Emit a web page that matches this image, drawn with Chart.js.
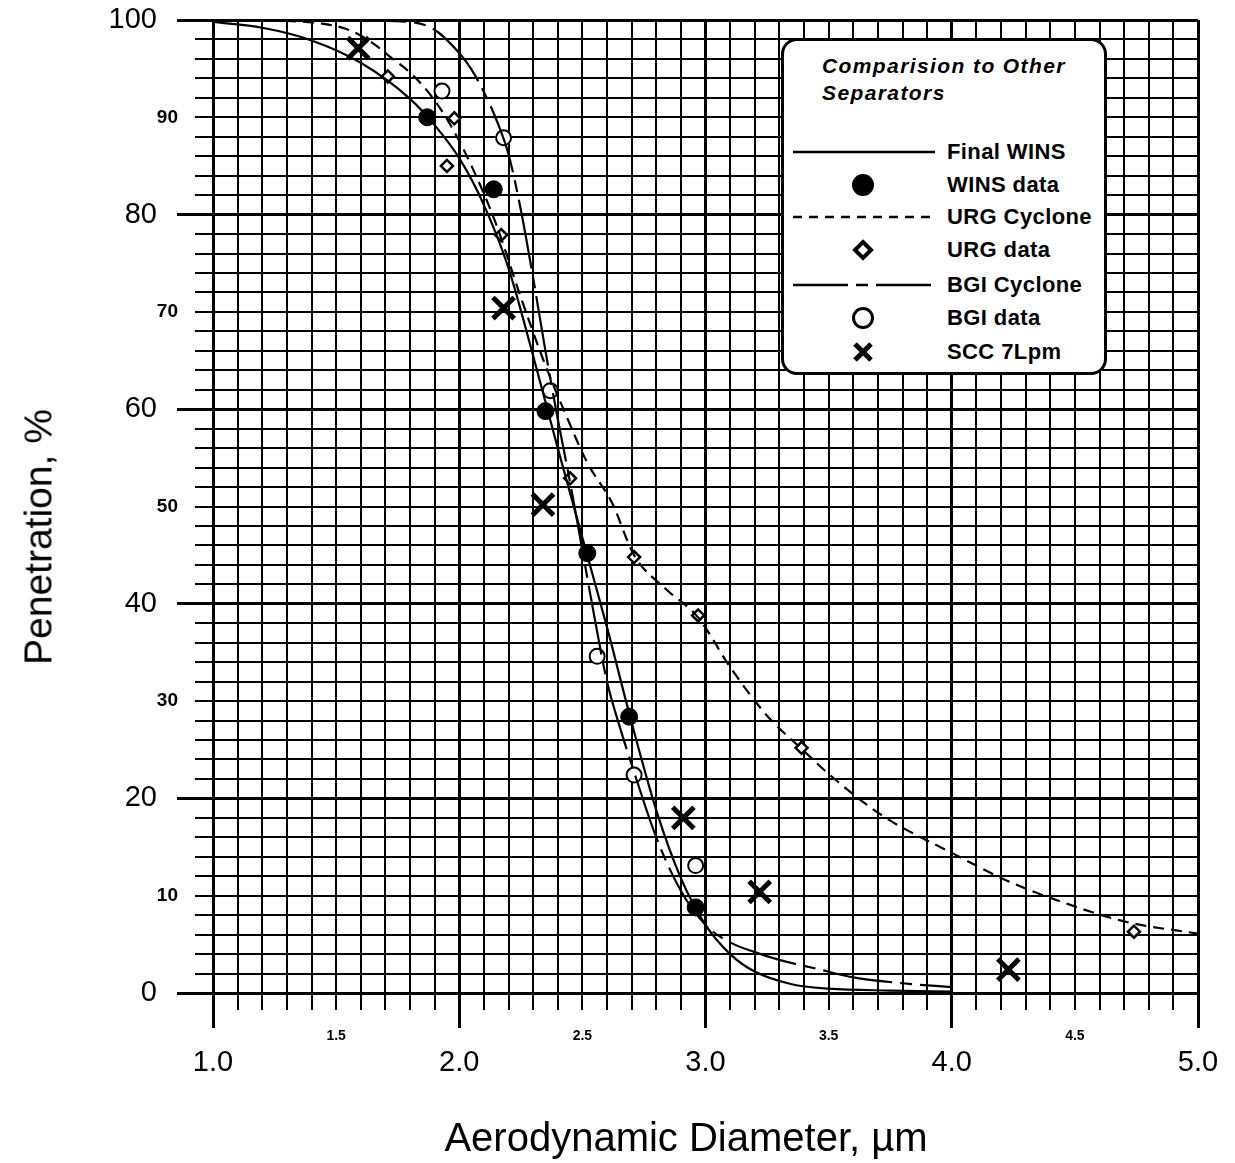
<!DOCTYPE html>
<html lang="en">

<head>
    <meta charset="UTF-8">
    <title>Comparision to Other Separators</title>
    <script src="https://cdn.jsdelivr.net/npm/chart.js"></script>
    <style>
        html, body { margin: 0; padding: 0; background: #fff; }
        #page { position: relative; width: 1235px; height: 1163px; font-family: "Liberation Sans", Arial, sans-serif; color: #000; }
        #chart { position: absolute; left: 0; top: 0; }
        .axis-title { position: absolute; line-height: 1; white-space: nowrap; }
        #ytitle { left: 38px; top: 537px; font-size: 39px; transform: translate(-50%, -50%) rotate(-90deg); }
        #xtitle { left: 686px; top: 1137px; font-size: 40px; transform: translate(-50%, -50%); }
        #legend { position: absolute; left: 781px; top: 38px; width: 326px; height: 337px; box-sizing: border-box;
                  border: 3px solid #000; border-radius: 16px; background: #fff; }
        #legend svg { position: absolute; left: 0; top: 0; }
        .leg-title { position: absolute; left: 38px; font-style: italic; font-weight: bold; font-size: 21px;
                     letter-spacing: 1.4px; line-height: 24px; white-space: nowrap; }
        .leg-text { position: absolute; left: 163px; font-weight: bold; font-size: 22px; letter-spacing: 0.4px;
                    line-height: 24px; white-space: nowrap; }
    </style>
</head>

<body>
    <div id="page">
        <canvas id="chart" width="1235" height="1163"></canvas>
        <div class="axis-title" id="ytitle">Penetration, %</div>
        <div class="axis-title" id="xtitle">Aerodynamic Diameter, µm</div>

        <!-- legend box -->
        <div id="legend">
            <div class="leg-title" style="top: 13px;">Comparision to Other</div>
            <div class="leg-title" style="top: 40px;">Separators</div>
            <svg width="320" height="331">
                <line x1="9" y1="111" x2="151" y2="111" stroke="#000" stroke-width="2.5" />
                <circle cx="79" cy="144" r="11" fill="#000" />
                <line x1="9" y1="176" x2="151" y2="176" stroke="#000" stroke-width="2.5" stroke-dasharray="9 7" />
                <polygon points="79,201 87,209 79,217 71,209" fill="#fff" stroke="#000" stroke-width="4" />
                <line x1="9" y1="244" x2="151" y2="244" stroke="#000" stroke-width="2.5" stroke-dasharray="55 8 12 8" />
                <circle cx="79" cy="277" r="9.5" fill="#fff" stroke="#000" stroke-width="3" />
                <line x1="71" y1="303" x2="87" y2="319" stroke="#000" stroke-width="5" />
                <line x1="87" y1="303" x2="71" y2="319" stroke="#000" stroke-width="5" />
            </svg>
            <div class="leg-text" style="top: 99px;">Final WINS</div>
            <div class="leg-text" style="top: 132px;">WINS data</div>
            <div class="leg-text" style="top: 164px;">URG Cyclone</div>
            <div class="leg-text" style="top: 197px;">URG data</div>
            <div class="leg-text" style="top: 232px;">BGI Cyclone</div>
            <div class="leg-text" style="top: 265px;">BGI data</div>
            <div class="leg-text" style="top: 299px;">SCC 7Lpm</div>
        </div>
    </div>

    <script>
        // curves
        const finalWinsX = [1.0, 1.2, 1.4, 1.6, 1.8, 1.9, 2.0, 2.1, 2.2, 2.3, 2.4, 2.5, 2.6, 2.7, 2.8, 2.9, 3.0, 3.1, 3.2, 3.35, 3.5, 3.75, 4.0];
        const finalWinsY = [99.8, 99.2, 97.9, 95.6, 91.9, 89.2, 85.8, 81.0, 74.5, 65.5, 56.0, 46.8, 37.6, 27.8, 18.8, 11.8, 7.0, 4.0, 2.2, 0.9, 0.45, 0.25, 0.15];

        const urgCycloneX = [1.0, 1.3, 1.45, 1.55, 1.65, 1.73, 1.8, 1.88, 1.96, 2.05, 2.15, 2.25, 2.35, 2.43, 2.52, 2.62, 2.71, 2.84, 2.97, 3.1, 3.25, 3.39, 3.51, 3.72, 4.0, 4.22, 4.42, 4.71, 5.0];
        const urgCycloneY = [100, 99.9, 99.6, 99.0, 97.6, 96.0, 94.6, 92.4, 89.4, 85.0, 79.0, 71.5, 64.5, 59.6, 54.5, 50.4, 45.0, 41.5, 38.6, 33.5, 28.5, 25.1, 22.3, 18.2, 14.4, 11.6, 9.6, 7.3, 6.1];

        const bgiCycloneX = [1.5, 1.8, 1.9, 2.0, 2.05, 2.1, 2.15, 2.2, 2.25, 2.3, 2.35, 2.4, 2.45, 2.5, 2.55, 2.6, 2.65, 2.7, 2.8, 2.9, 3.0, 3.1, 3.2, 3.3, 3.45, 3.6, 3.8, 4.0];
        const bgiCycloneY = [100, 99.8, 99.0, 96.6, 94.9, 92.6, 89.8, 86.2, 80.5, 73.5, 66.0, 59.0, 52.5, 45.5, 38.5, 32.0, 27.5, 23.5, 16.0, 10.5, 7.0, 5.2, 4.2, 3.4, 2.5, 1.6, 1.0, 0.6];

        // measured points
        const winsDataX = [1.87, 2.14, 2.35, 2.52, 2.69, 2.96];
        const winsDataY = [90.0, 82.6, 59.8, 45.2, 28.4, 8.8];
        const urgDataX = [1.71, 1.95, 1.98, 2.17, 2.45, 2.71, 2.97, 3.39, 4.74];
        const urgDataY = [94.2, 85.0, 89.9, 77.9, 52.9, 44.8, 38.8, 25.2, 6.3];
        const bgiDataX = [1.93, 2.18, 2.37, 2.56, 2.71, 2.96];
        const bgiDataY = [92.7, 87.9, 61.9, 34.6, 22.4, 13.1];
        const sccDataX = [1.59, 2.18, 2.34, 2.91, 3.22, 4.23];
        const sccDataY = [97.1, 70.4, 50.2, 18.0, 10.4, 2.4];

        function pts(xs, ys) {
            return xs.map((x, i) => ({ x: x, y: ys[i] }));
        }

        const FONT = '"Liberation Sans", Arial, sans-serif';
        const isWhole = v => Math.abs(v - Math.round(v)) < 1e-6;
        const isTwenty = v => Math.abs(v % 20) < 1e-6;

        const curve = (label, xs, ys, dash) => ({
            label: label,
            data: pts(xs, ys),
            showLine: true,
            borderColor: '#000',
            borderWidth: 2.2,
            borderDash: dash,
            pointRadius: 0,
            cubicInterpolationMode: 'monotone',
            fill: false
        });

        const marks = (label, xs, ys, style, radius, width, fillColor) => ({
            label: label,
            data: pts(xs, ys),
            showLine: false,
            pointStyle: style,
            pointRadius: radius,
            borderWidth: width,
            borderColor: '#000',
            backgroundColor: fillColor
        });

        // stop the scales from pushing the plot area in for half-labels
        const noPad = s => { s.paddingTop = 0; s.paddingBottom = 0; s.paddingLeft = 0; s.paddingRight = 0; };

        new Chart(document.getElementById('chart').getContext('2d'), {
            type: 'scatter',
            data: {
                datasets: [
                    curve('Final WINS', finalWinsX, finalWinsY, []),
                    curve('URG Cyclone', urgCycloneX, urgCycloneY, [11, 7]),
                    curve('BGI Cyclone', bgiCycloneX, bgiCycloneY, [70, 8, 12, 8]),
                    marks('WINS data', winsDataX, winsDataY, 'circle', 8.5, 1, '#000'),
                    marks('URG data', urgDataX, urgDataY, 'rectRot', 6, 2.5, '#fff'),
                    marks('BGI data', bgiDataX, bgiDataY, 'circle', 7.5, 2, '#fff'),
                    marks('SCC 7Lpm', sccDataX, sccDataY, 'crossRot', 15, 5, '#000')
                ]
            },
            options: {
                responsive: false,
                animation: false,
                events: [],
                layout: { padding: { left: 0, top: 20, right: 37, bottom: 0 } },
                plugins: { legend: { display: false }, tooltip: { enabled: false } },
                scales: {
                    // fine grid every 0.1, small half-unit labels
                    x: {
                        type: 'linear', position: 'bottom', min: 1, max: 5,
                        afterFit: s => { s.height = 55; noPad(s); },
                        ticks: {
                            stepSize: 0.1, autoSkip: false, maxRotation: 0, padding: 0, color: '#000',
                            font: { family: FONT, size: 14, weight: 'bold' },
                            callback: v => (Math.round(v * 10) % 10 === 5 ? v.toFixed(1) : '')
                        },
                        grid: {
                            color: '#000', tickColor: '#000', tickLength: 35,
                            lineWidth: c => (isWhole(c.tick.value) ? 3 : 2),
                            tickWidth: c => (isWhole(c.tick.value) ? 3 : 2),
                            tickBorderDash: c => (isWhole(c.tick.value) ? [] : [15, 40])
                        },
                        border: { display: true, color: '#000', width: 3 }
                    },
                    // whole-unit labels
                    x2: {
                        type: 'linear', position: 'bottom', weight: 1, min: 1, max: 5,
                        afterFit: s => { s.height = 115; noPad(s); },
                        ticks: {
                            stepSize: 1, maxRotation: 0, padding: -2, color: '#000',
                            font: { family: FONT, size: 29 },
                            callback: v => v.toFixed(1)
                        },
                        grid: { display: false, drawTicks: false, tickLength: 0 },
                        border: { display: false }
                    },
                    // fine grid every 2 %, small labels at 10, 30, ...
                    y: {
                        type: 'linear', position: 'left', min: 0, max: 100,
                        afterFit: s => { s.width = 56; noPad(s); },
                        ticks: {
                            stepSize: 2, autoSkip: false, padding: -1, color: '#000',
                            font: { family: FONT, size: 19, weight: 'bold' },
                            callback: v => (Math.abs(v % 20 - 10) < 1e-6 ? String(v) : '')
                        },
                        grid: {
                            color: '#000', tickColor: '#000', tickLength: 36,
                            lineWidth: c => (isTwenty(c.tick.value) ? 3 : 2),
                            tickWidth: c => (isTwenty(c.tick.value) ? 3 : 2),
                            tickBorderDash: c => (isTwenty(c.tick.value) ? [] : [0, 18, 18, 0])
                        },
                        border: { display: true, color: '#000', width: 3 }
                    },
                    // labels every 20 %
                    y2: {
                        type: 'linear', position: 'left', weight: 1, min: 0, max: 100,
                        afterFit: s => { s.width = 157; noPad(s); },
                        ticks: {
                            stepSize: 20, padding: 0, color: '#000',
                            font: { family: FONT, size: 29 }
                        },
                        grid: { display: false, drawTicks: false, tickLength: 0 },
                        border: { display: false }
                    }
                }
            }
        });
    </script>
</body>

</html>
